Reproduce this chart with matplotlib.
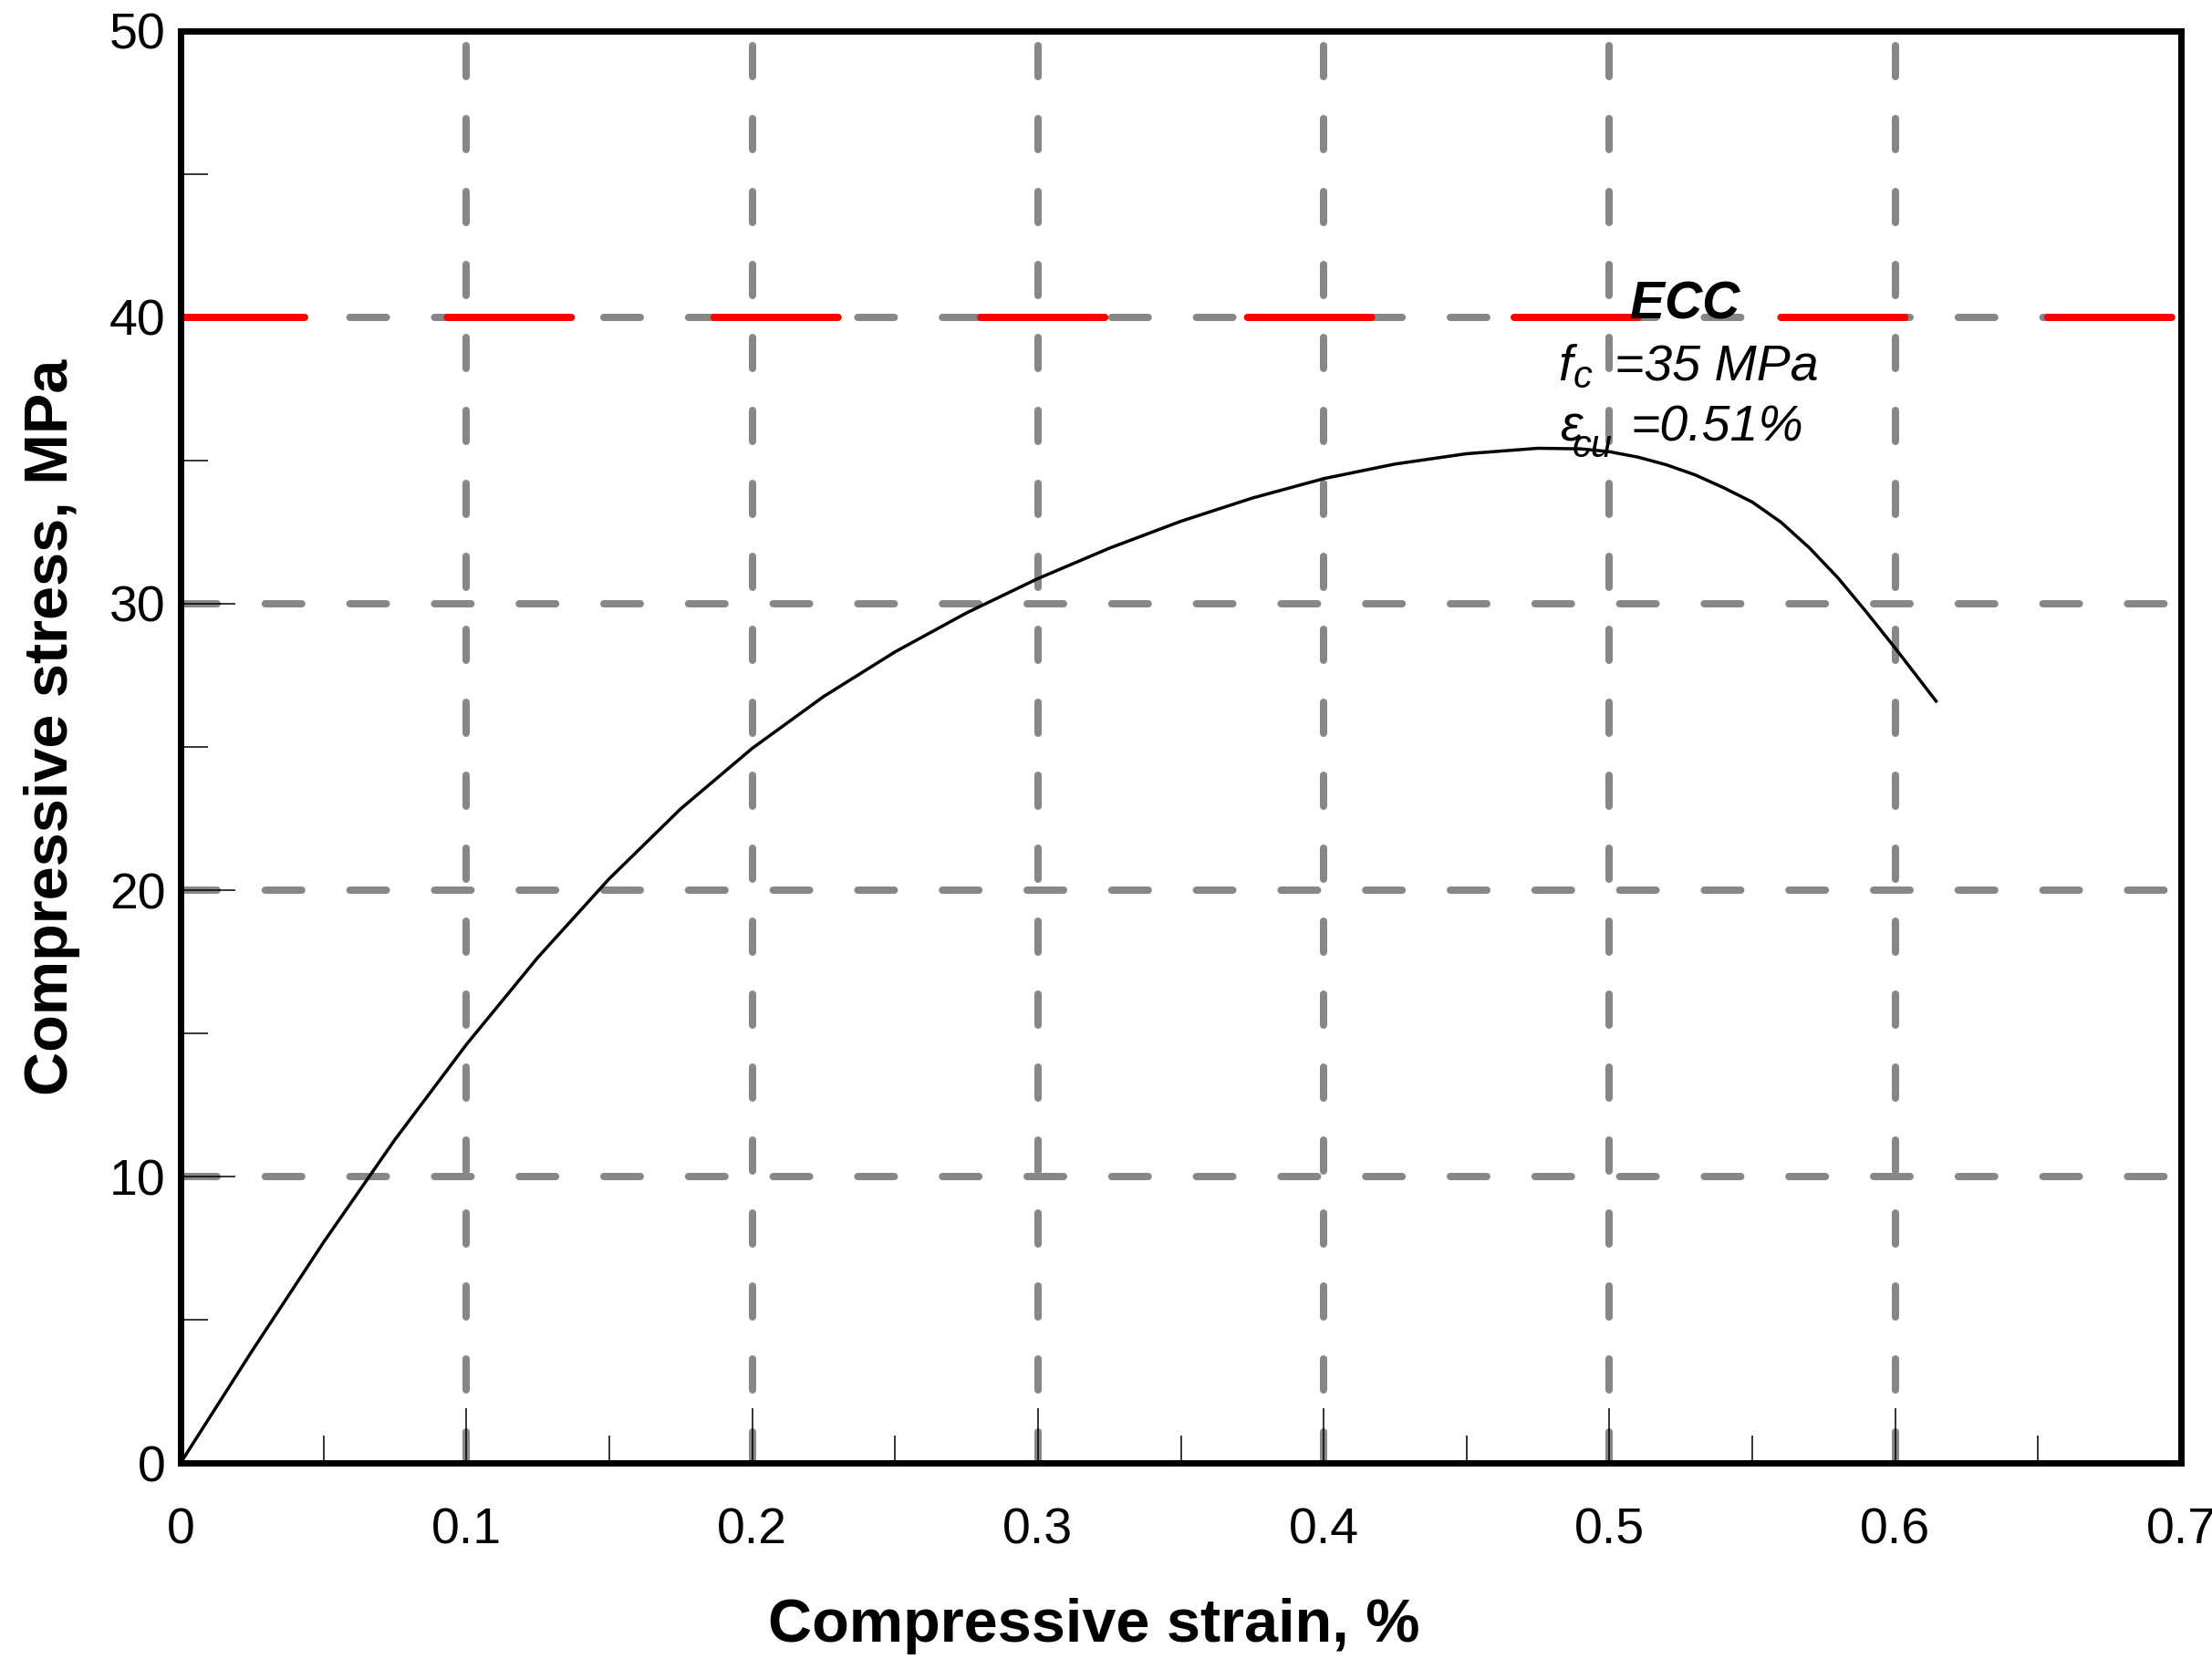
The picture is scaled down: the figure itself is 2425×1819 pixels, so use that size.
import numpy as np
import matplotlib
matplotlib.use("Agg")
import matplotlib.pyplot as plt

plt.rcParams['font.family'] = ['Liberation Sans', 'DejaVu Sans']

# stress-strain curve
strain = [0, 0.025, 0.05, 0.075, 0.1, 0.125, 0.15, 0.175, 0.2, 0.225,
          0.25, 0.275, 0.3, 0.325, 0.35, 0.375, 0.4, 0.425, 0.45, 0.475,
          0.49, 0.5, 0.51, 0.52, 0.53, 0.54, 0.55, 0.56, 0.57, 0.58,
          0.59, 0.6, 0.6143]
stress = [0, 3.91, 7.70, 11.29, 14.61, 17.65, 20.40, 22.84, 24.95, 26.76,
          28.32, 29.68, 30.88, 31.94, 32.88, 33.69, 34.37, 34.88, 35.24, 35.43,
          35.41, 35.31, 35.12, 34.85, 34.50, 34.05, 33.55, 32.85, 31.95, 30.90,
          29.70, 28.45, 26.60]

ref_stress = 40
xgrid = [0.1, 0.2, 0.3, 0.4, 0.5, 0.6]
ygrid = [10, 20, 30, 40]
xticks = [0, 0.1, 0.2, 0.3, 0.4, 0.5, 0.6, 0.7]
xticklabels = ["0", "0.1", "0.2", "0.3", "0.4", "0.5", "0.6", "0.7"]
yticks = [0, 10, 20, 30, 40, 50]
yticklabels = ["0", "10", "20", "30", "40", "50"]

gray = "#878787"
lw_grid = 5.76

fig = plt.figure(figsize=(24.25, 18.19), dpi=100)
ax = fig.add_axes([198/2425, 1 - 1604/1819, (2391-198)/2425, (1604-34)/1819])

for xv in xgrid:
    ax.axvline(xv, color=gray, lw=lw_grid, linestyle=(0, (4.25, 5.75)),
               dash_capstyle="round", zorder=1)
for yv in ygrid:
    ax.axhline(yv, color=gray, lw=lw_grid, linestyle=(0, (5, 6.6)),
               dash_capstyle="round", zorder=1)

# red reference line at 40 MPa
ax.axhline(ref_stress, color="#ff0000", lw=lw_grid, linestyle=(0, (17.0, 19.55)),
           dash_capstyle="round", zorder=2)

ax.plot(strain, stress, color="black", lw=2.5, zorder=3,
        solid_joinstyle="round")

ax.set_xlim(0, 0.7)
ax.set_ylim(0, 50)
ax.set_xticks(xticks)
ax.set_xticklabels(xticklabels)
ax.set_yticks(yticks)
ax.set_yticklabels(yticklabels)
ax.set_xticks(np.arange(0.05, 0.7, 0.1), minor=True)
ax.set_yticks(np.arange(5, 50, 10), minor=True)
ax.tick_params(axis="both", which="major", direction="in", length=43, width=1.1,
               labelsize=40)
ax.tick_params(axis="both", which="minor", direction="in", length=21.6, width=1.1)
ax.tick_params(axis="x", which="major", pad=35)
ax.tick_params(axis="y", which="major", pad=12)
for s in ax.spines.values():
    s.set_linewidth(5)
    s.set_zorder(5)

fig.text(1199/2425, 1 - 1800/1819, "Compressive strain, %", fontsize=48,
         fontweight="bold", ha="center", va="baseline")
fig.text(74/2425, 1 - 797/1819, "Compressive stress, MPa", fontsize=48,
         fontweight="bold", ha="center", va="baseline", rotation=90,
         rotation_mode="anchor")

ax.text(0.5072, 39.94, "ECC", fontsize=41, fontweight="bold", fontstyle="italic",
        ha="left", va="baseline", zorder=6)
ax.text(0.4820, 37.80, "f", fontsize=40, fontstyle="italic", ha="left", va="baseline", zorder=6)
ax.text(0.4874, 37.55, "c", fontsize=30, fontstyle="italic", ha="left", va="baseline", zorder=6)
ax.text(0.5018, 37.80, "=35 MPa", fontsize=40, fontstyle="italic", ha="left", va="baseline", zorder=6)
ax.text(0.4826, 35.70, "\u03b5", fontsize=40, fontstyle="italic", ha="left", va="baseline", zorder=6)
ax.text(0.4870, 35.12, "cu", fontsize=30, fontstyle="italic", ha="left", va="baseline", zorder=6)
ax.text(0.5075, 35.70, "=0.51%", fontsize=40, fontstyle="italic", ha="left", va="baseline", zorder=6)

fig.savefig("out.png", dpi=100)
